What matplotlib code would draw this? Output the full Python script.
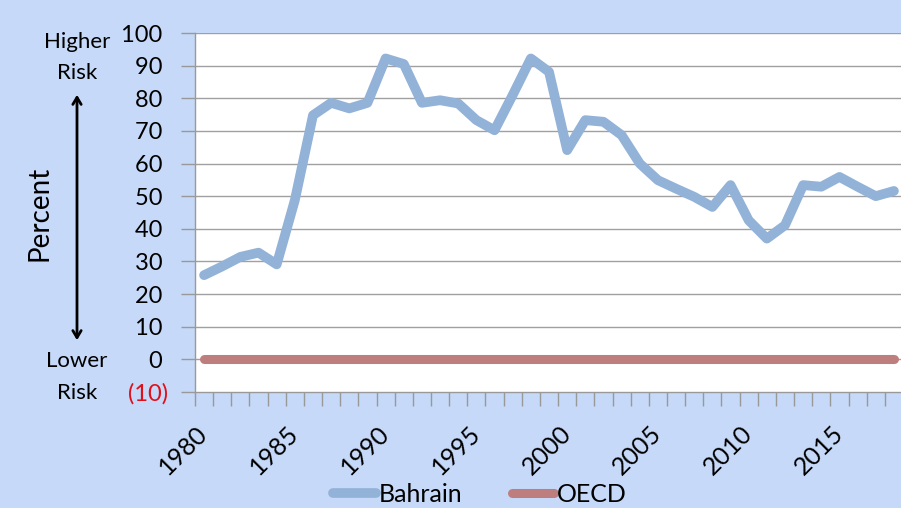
import matplotlib
matplotlib.use('Agg')
from matplotlib import pyplot as plt

plt.rcParams['font.family'] = ['Lato', 'DejaVu Sans']

years = list(range(1980, 2019))
bahrain = [25.8, 28.5, 31.4, 32.7, 29.1, 48.8, 74.8, 78.6, 76.9, 78.6,
           92.2, 90.5, 78.6, 79.4, 78.4, 73.3, 70.2, 81.0, 92.2, 88.1,
           64.1, 73.3, 72.8, 68.7, 60.0, 54.9, 52.3, 49.8, 46.7, 53.4,
           42.6, 37.0, 41.1, 53.4, 52.9, 55.9, 52.9, 50.0, 51.6]
oecd = [0] * len(years)
y_ticks = [-10, 0, 10, 20, 30, 40, 50, 60, 70, 80, 90, 100]
x_labels = ['1980', '1985', '1990', '1995', '2000', '2005', '2010', '2015']

bg = '#C6D9F8'
fig = plt.figure(figsize=(9.01, 5.08), dpi=100, facecolor=bg)
ax = fig.add_axes([195 / 901, 1 - 392 / 508, 708 / 901, 359 / 508])
ax.set_facecolor('white')

idx = list(range(len(years)))
ax.plot(idx, bahrain, color='#93B2D8', lw=7, solid_capstyle='round',
        solid_joinstyle='round', label='Bahrain', zorder=3)
ax.plot(idx, oecd, color='#BE7E7D', lw=6.5, solid_capstyle='round',
        label='OECD', zorder=3)

ax.set_xlim(-0.5, len(years) - 0.5)
ax.set_ylim(-10, 100)

# y axis: grid lines, red bracketed negative
ax.set_yticks(y_ticks)
ax.set_yticklabels([f'({-v})' if v < 0 else f'{v} ' for v in y_ticks])
ax.tick_params(axis='y', length=10, width=1, color='#999999', pad=9,
               labelsize=17, direction='out')
for lab, v in zip(ax.get_yticklabels(), y_ticks):
    if v < 0:
        lab.set_color('#E0101A')
for v in y_ticks[1:]:
    ax.axhline(v, color='#A0A0A0', lw=1, zorder=1)

# x axis: ticks between categories, labels every 5 years
ax.set_xticks([i - 0.5 for i in range(len(years) + 1)], minor=True)
ax.tick_params(axis='x', which='minor', length=10, width=1, color='#999999',
               direction='out')
major = [years.index(int(s)) for s in x_labels]
ax.set_xticks(major)
ax.set_xticklabels(x_labels, rotation=45, ha='right', va='center',
                   rotation_mode='anchor')
ax.tick_params(axis='x', which='major', length=0, pad=27, labelsize=18)

for side in ['top', 'right']:
    ax.spines[side].set_visible(False)
for side in ['left', 'bottom']:
    ax.spines[side].set_color('#999999')
    ax.spines[side].set_linewidth(1)

# side annotations
fig.text(40 / 901, 1 - 213 / 508, 'Percent', rotation=90, fontsize=20,
         ha='center', va='center')
fig.text(77 / 901, 1 - 42 / 508, 'Higher', fontsize=16, ha='center', va='center')
fig.text(77 / 901, 1 - 73 / 508, 'Risk', fontsize=16, ha='center', va='center')
fig.text(77 / 901, 1 - 361 / 508, 'Lower', fontsize=16, ha='center', va='center')
fig.text(77 / 901, 1 - 393 / 508, 'Risk', fontsize=16, ha='center', va='center')
fig.add_artist(matplotlib.patches.FancyArrowPatch(
    (77 / 901, 1 - 343 / 508), (77 / 901, 1 - 92 / 508),
    transform=fig.transFigure, arrowstyle='<->,head_length=5,head_width=3',
    color='black', lw=2))

fig.legend(loc='center', bbox_to_anchor=(480 / 901, 1 - 494 / 508), ncol=2,
           frameon=False, fontsize=18, handlelength=1.7, handletextpad=0.1,
           columnspacing=2.0)

fig.savefig('out.png', dpi=100, facecolor=bg)
